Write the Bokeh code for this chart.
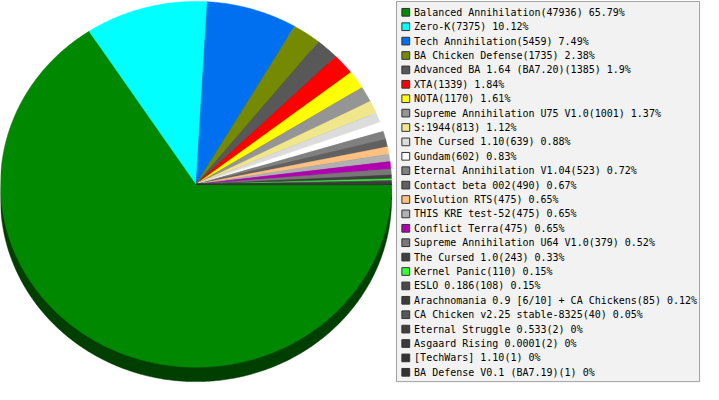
import numpy as np
from bokeh.plotting import figure
from bokeh.models import Range1d
from bokeh.core.properties import value
from bokeh.embed import file_html
from bokeh.resources import INLINE

names = [
    "Balanced Annihilation", "Zero-K", "Tech Annihilation", "BA Chicken Defense",
    "Advanced BA 1.64 (BA7.20)", "XTA", "NOTA", "Supreme Annihilation U75 V1.0",
    "S:1944", "The Cursed 1.10", "Gundam", "Eternal Annihilation V1.04",
    "Contact beta 002", "Evolution RTS", "THIS KRE test-52", "Conflict Terra",
    "Supreme Annihilation U64 V1.0", "The Cursed 1.0", "Kernel Panic", "ESLO 0.186",
    "Arachnomania 0.9 [6/10] + CA Chickens", "CA Chicken v2.25 stable-8325",
    "Eternal Struggle 0.533", "Asgaard Rising 0.0001", "[TechWars] 1.10",
    "BA Defense V0.1 (BA7.19)",
]
counts = [47936, 7375, 5459, 1735, 1385, 1339, 1170, 1001, 813, 639, 602, 523,
          490, 475, 475, 475, 379, 243, 110, 108, 85, 40, 2, 2, 1, 1]
percents = ["65.79%", "10.12%", "7.49%", "2.38%", "1.9%", "1.84%", "1.61%", "1.37%",
            "1.12%", "0.88%", "0.83%", "0.72%", "0.67%", "0.65%", "0.65%", "0.65%",
            "0.52%", "0.33%", "0.15%", "0.15%", "0.12%", "0.05%", "0%", "0%", "0%", "0%"]
colors = ["#008800", "#00ffff", "#0070f0", "#758a00", "#585858", "#ff0000", "#ffff00",
          "#959595", "#f0e68c", "#dcdcdc", "#ffffff", "#808080", "#606060", "#ffc080",
          "#b0b0b0", "#b000b0", "#787878", "#404040", "#33ff33", "#4a4a4a", "#3c3c3c",
          "#585858", "#404040", "#3a3a3a", "#333333", "#333333"]

# layout constants (reference pixel space)
CX, CY, RX, RY, DEPTH = 200.0, 191.5, 200.0, 190.5, 15.0


def darken(h, f=0.47):
    h = h.lstrip("#")
    r, g, b = (int(h[i:i + 2], 16) for i in (0, 2, 4))
    return "#%02x%02x%02x" % (int(r * f), int(g * f), int(b * f))


total = float(sum(counts))
cum = np.concatenate([[0.0], np.cumsum(np.array(counts) / total)])

xs_top, ys_top, xs_sh, ys_sh = [], [], [], []
for i in range(len(counts)):
    a0 = -cum[i] * 2 * np.pi
    a1 = -cum[i + 1] * 2 * np.pi
    n = max(2, int(abs(a1 - a0) / (2 * np.pi) * 720) + 2)
    t = np.linspace(a0, a1, n)
    px = np.concatenate([[CX], CX + RX * np.cos(t)])
    py = np.concatenate([[CY], CY - RY * np.sin(t)])
    xs_top.append(px.tolist())
    ys_top.append(py.tolist())
    xs_sh.append(px.tolist())
    ys_sh.append((py + DEPTH).tolist())

W, H = 703, 384
p = figure(width=W, height=H, x_range=Range1d(0, 719), y_range=Range1d(400, 0),
           output_backend="svg", toolbar_location=None, min_border=0)
p.axis.visible = False
p.grid.visible = False
p.outline_line_color = None
p.background_fill_color = "white"
p.border_fill_color = "white"

shadow_cols = [darken(c) for c in colors]
p.patches(xs_sh, ys_sh, fill_color=shadow_cols, line_color=shadow_cols, line_width=0.5)
p.patches(xs_top, ys_top, fill_color=colors, line_color=colors, line_width=0.5)

# legend box
p.quad(left=[405], right=[715], top=[1], bottom=[397],
       fill_color="#f2f2f2", line_color="#a0a0a0", line_width=1)

ly = [12.3 + 15 * i for i in range(len(names))]
labels = [f"{n}({c}) {pc}" for n, c, pc in zip(names, counts, percents)]
p.rect(x=[414.5] * len(names), y=ly, width=8, height=8,
       fill_color=colors, line_color="#333333", line_width=1)
p.text(x=[423] * len(names), y=ly, text=labels, text_font=value("DejaVu Sans Mono"),
       text_font_size="10px", text_baseline="middle", text_color="#000000")

open("out.html", "w").write(file_html(p, INLINE))
